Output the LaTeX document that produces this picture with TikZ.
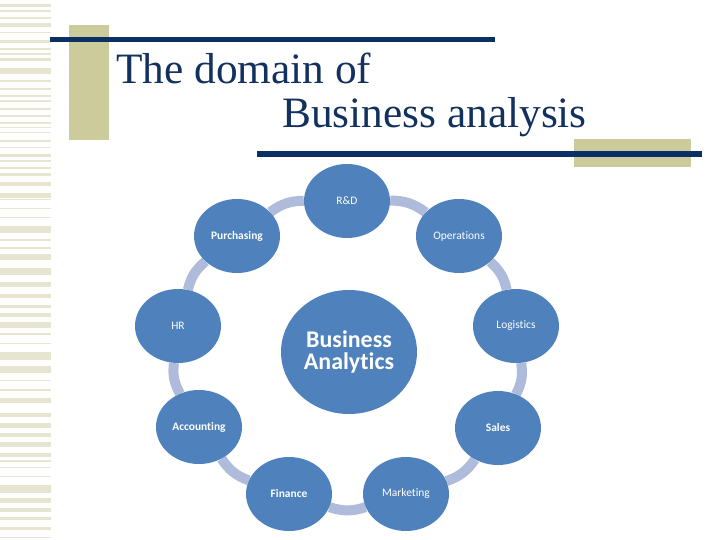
\documentclass[tikz,border=0pt]{standalone}
\usepackage{fontspec}
\setmainfont{Liberation Serif}
\newfontfamily\calib[Ligatures=NoCommon,RawFeature={-liga;-dlig}]{Carlito}
\usetikzlibrary{shapes.geometric,backgrounds}
\definecolor{navy}{HTML}{0B3063}
\definecolor{khaki}{HTML}{CBCB9B}
\definecolor{stripec}{HTML}{E6E5CF}
\definecolor{ballc}{HTML}{4F81BD}
\definecolor{linkc}{HTML}{AEBBDA}
\definecolor{titlec}{HTML}{12315F}
\begin{document}
\begin{tikzpicture}[x=1bp,y=-1bp,
  ball/.style={ellipse, fill=ballc, minimum width=86bp, minimum height=74bp, inner sep=0pt, text=white, font=\calib\fontsize{11.5}{13}\selectfont},
  bball/.style={ball, font=\calib\bfseries\fontsize{11.5}{13}\selectfont},
  link/.style={draw=linkc, line width=10bp, bend left=18},
  stripe/.style={fill=stripec},
  titletext/.style={text=titlec, font=\fontsize{43.5}{44}\selectfont, inner sep=0pt, anchor=base west}]
\useasboundingbox (0,0) rectangle (720,540);
% left stripe
\foreach \a/\b in {4/7,10/12,17/19,23/27,32/33,40/43,48/50,53/55,58/61,68/74,80/82,88/90,95/97,100/102,108/110,115/117,122/124,127/128,132/133,140/142,147/148,154/157,160/162,167/169,173/176,182/186,193/198,199/200,208/209,217/218,226/233,239/241,247/249,254/260,268/275,282/287,294/298,305/308,313/317,322/328,333/335,343/344,352/360,366/373,380/381,389/391,398/403,413/417,423/428,433/437,442/447,453/457,460/462,467/468,476/477,485/493,498/503,508/512,517/520,527/530,537/538}
  \fill[stripe] (0,\a) rectangle (51,\b);
% title decoration
\fill[khaki] (69,25) rectangle (109,140);
\fill[navy] (50,37) rectangle (495,42.5);
\fill[khaki] (574,139) rectangle (691,167);
\fill[navy] (257,151.5) rectangle (702,157);
\node[titletext] (t1) at (116,84) {The domain of};
\node[titletext] (t2) at (282,128) {Business analysis};
% nodes
\node[ball] (rd) at (347,201) {R\&D};
\node[ball] (op) at (459,236) {Operations};
\node[ball] (lo) at (516,326) {Logistics};
\node[bball] (sa) at (498,428) {Sales};
\node[ball] (ma) at (406,494) {Marketing};
\node[bball] (fi) at (289,494) {Finance};
\node[bball] (ac) at (199,427) {Accounting};
\node[ball] (hr) at (178,326) {HR};
\node[bball] (pu) at (237,236) {Purchasing};
\node[ball, minimum width=136bp, minimum height=124bp, align=center, font=\calib\bfseries\fontsize{24}{23}\selectfont] (ba) at (349,352) {Business\\Analytics};
\begin{scope}[on background layer]
\draw[link] (rd) to (op);
\draw[link] (op) to (lo);
\draw[link] (lo) to (sa);
\draw[link] (sa) to (ma);
\draw[link] (ma) to (fi);
\draw[link] (fi) to (ac);
\draw[link] (ac) to (hr);
\draw[link] (hr) to (pu);
\draw[link] (pu) to (rd);
\end{scope}
\end{tikzpicture}
\end{document}
